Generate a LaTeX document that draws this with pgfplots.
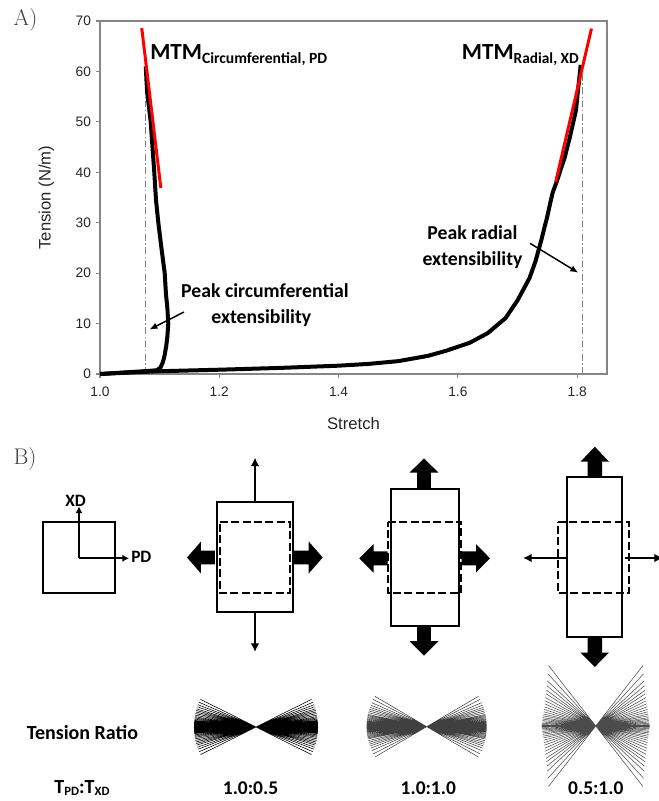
\documentclass[border=0pt]{standalone}
\usepackage{fontspec}
\usepackage{pgfplots}
\pgfplotsset{compat=1.18}
\usetikzlibrary{arrows.meta}
\newfontfamily\carlito{Carlito}
\newfontfamily\arial{Liberation Sans}
\definecolor{axgray}{RGB}{134,134,134}
\begin{document}
\begin{tikzpicture}
% ---------------- Panel A ----------------
\begin{axis}[name=A, at={(0,0)}, anchor=south west, scale only axis,
 width=380.25pt, height=264.75pt,
 xmin=1.0, xmax=1.85, ymin=0, ymax=70, clip=false,
 xtick={1.0,1.2,1.4,1.6,1.8}, ytick={0,10,20,30,40,50,60,70},
 tick align=outside, tick pos=left, major tick length=3.2pt,
 axis line style={draw=axgray, line width=1.1pt},
 tick style={draw=axgray, line width=0.9pt},
 tick label style={font=\arial\fontsize{10.3}{12}\selectfont, text=black!85},
 /pgf/number format/assume math mode=true,
 xticklabel style={yshift=-3pt, /pgf/number format/fixed, /pgf/number format/fixed zerofill, /pgf/number format/precision=1},
 xlabel={Stretch}, ylabel={Tension (N/m)},
 label style={font=\arial\fontsize{12.5}{14}\selectfont, text=black!85},
 xlabel style={at={(axis description cs:0.5,-0.1567)}, anchor=base},
 ylabel style={at={(axis description cs:-0.106,0.5)}, anchor=center},
]
% dash-dot peak extensibility lines
\addplot[gray, line width=0.6pt, dash pattern=on 5pt off 2pt on 1pt off 2pt] coordinates {(1.0754,0) (1.0754,59)};
\addplot[gray, line width=0.6pt, dash pattern=on 5pt off 2pt on 1pt off 2pt] coordinates {(1.8086,0) (1.8086,60)};
% circumferential (PD)
\addplot[black, line width=3pt, line join=round] coordinates {
(1.000,0.0) (1.02,0.15) (1.04,0.3) (1.06,0.45) (1.08,0.6) (1.095,0.75) (1.101,1.2)
(1.105,2.2) (1.108,3.5) (1.111,5.5) (1.113,7.5) (1.1145,10) (1.113,13) (1.1105,16)
(1.1085,20) (1.1034,24.6) (1.0978,30) (1.0939,34.5) (1.091,40) (1.088,45) (1.085,50)
(1.0815,53.5) (1.0790,56) (1.0778,58.5) (1.0768,61)};
% radial (XD)
\addplot[black, line width=3pt, line join=round] coordinates {
(1.0,0) (1.05,0.3) (1.1,0.55) (1.2,0.85) (1.3,1.2) (1.4,1.65) (1.45,2.0) (1.5,2.55)
(1.55,3.6) (1.58,4.6) (1.6,5.4) (1.62,6.2) (1.65,8.1) (1.68,11.1) (1.70,14.6) (1.72,19.0)
(1.73,22.3) (1.74,26.6) (1.75,31.3) (1.756,34.5) (1.759,36) (1.7656,38.1) (1.7795,43.1)
(1.788,47.1) (1.798,52.3) (1.802,57) (1.806,61.3)};
% tangent (MTM) lines
\addplot[red, line width=2.25pt] coordinates {(1.070,68.6) (1.102,36.9)};
\addplot[red, line width=2.25pt] coordinates {(1.764,38.1) (1.824,68.5)};
\end{axis}

% ---------------- Canvas (pixel coordinates) ----------------
\begin{axis}[name=canvas, at={(-75pt,-320.25pt)}, anchor=south west, scale only axis,
 width=493.5pt, height=600.75pt, xmin=0, xmax=658, ymin=0, ymax=801,
 y dir=reverse, hide axis, clip=false]
% panel letters
\node[anchor=base west, inner sep=0, font=\fontsize{17}{17}\selectfont, text=black!75] at (axis cs:13.3,25) {A)};
\node[anchor=base west, inner sep=0, font=\fontsize{17}{17}\selectfont, text=black!75] at (axis cs:13.3,464.5) {B)};
% MTM labels
\node[anchor=base west, inner sep=0] at (axis cs:150,59.3)
 {\carlito\bfseries\fontsize{17.3}{17}\selectfont MTM\raisebox{-3pt}{\fontsize{11.7}{12}\selectfont Circumferential, PD}};
\node[anchor=base west, inner sep=0] at (axis cs:461.7,59.3)
 {\carlito\bfseries\fontsize{17.3}{17}\selectfont MTM\raisebox{-3pt}{\fontsize{11.5}{12}\selectfont Radial, XD}};
% peak annotations
\node[anchor=base, inner sep=0, font=\carlito\bfseries\fontsize{14.8}{16}\selectfont] at (axis cs:265,297.5) {Peak circumferential};
\node[anchor=base, inner sep=0, font=\carlito\bfseries\fontsize{14.8}{16}\selectfont] at (axis cs:261.3,323) {extensibility};
\node[anchor=base, inner sep=0, font=\carlito\bfseries\fontsize{14.8}{16}\selectfont] at (axis cs:472.5,239.3) {Peak radial};
\node[anchor=base, inner sep=0, font=\carlito\bfseries\fontsize{14.8}{16}\selectfont] at (axis cs:472.5,265) {extensibility};
\draw[line width=1.1pt, -{Latex[length=6pt,width=5pt]}] (axis cs:184,312) -- (axis cs:149.5,329.5);
\draw[line width=1.1pt, -{Latex[length=6pt,width=5pt]}] (axis cs:530,243.3) -- (axis cs:578.3,272.7);

% ---------------- Panel B ----------------
% reference square with axes
\addplot[black, line width=1.5pt] coordinates {(43,522) (115,522) (115,593) (43,593)} --cycle;
\addplot[black, line width=1.5pt, -{Latex[length=5pt,width=5.5pt]}] coordinates {(79,558.3) (79,506.5)};
\addplot[black, line width=1.5pt, -{Latex[length=5pt,width=5.5pt]}] coordinates {(79,558.3) (129,558.3)};
\node[anchor=base, inner sep=0, font=\carlito\bfseries\fontsize{13}{14}\selectfont] at (axis cs:75.5,506) {XD};
\node[anchor=base west, inner sep=0, font=\carlito\bfseries\fontsize{13}{14}\selectfont] at (axis cs:131,562.7) {PD};

% sample 1 (1.0:0.5)
\addplot[black, line width=1.5pt] coordinates {(217,502) (293,502) (293,612) (217,612)} --cycle;
\addplot[black, line width=1.5pt, dash pattern=on 6pt off 2.5pt] coordinates {(220,522) (290,522) (290,593) (220,593)} --cycle;
\addplot[black, line width=1.5pt, -{Latex[length=6.5pt,width=6.5pt]}] coordinates {(255,501) (255,457.5)};
\addplot[black, line width=1.5pt, -{Latex[length=6.5pt,width=6.5pt]}] coordinates {(255,613) (255,652)};
\addplot[fill=black, draw=none] coordinates {(215,550.7) (201,550.7) (201,541.5) (187,557.5) (201,573.5) (201,564.3) (215,564.3)} --cycle;
\addplot[fill=black, draw=none] coordinates {(294,550.7) (308.7,550.7) (308.7,541.5) (322.7,557.5) (308.7,573.5) (308.7,564.3) (294,564.3)} --cycle;

% sample 2 (1.0:1.0)
\addplot[black, line width=1.5pt] coordinates {(391,489) (459,489) (459,626) (391,626)} --cycle;
\addplot[black, line width=1.5pt, dash pattern=on 6pt off 2.5pt] coordinates {(388,522) (461,522) (461,593) (388,593)} --cycle;
\addplot[fill=black, draw=none] coordinates {(417.2,488) (417.2,472.7) (409.5,472.7) (424,458.3) (438.5,472.7) (430.8,472.7) (430.8,488)} --cycle;
\addplot[fill=black, draw=none] coordinates {(417.2,627) (417.2,641) (409.5,641) (424,655.5) (438.5,641) (430.8,641) (430.8,627)} --cycle;
\addplot[fill=black, draw=none] coordinates {(387.5,551.3) (373.5,551.3) (373.5,544) (359.3,558.3) (373.5,572.5) (373.5,565.3) (387.5,565.3)} --cycle;
\addplot[fill=black, draw=none] coordinates {(461.5,551.3) (476,551.3) (476,544) (490,558.3) (476,572.5) (476,565.3) (461.5,565.3)} --cycle;

% sample 3 (0.5:1.0)
\addplot[black, line width=1.5pt] coordinates {(567,477) (622,477) (622,637) (567,637)} --cycle;
\addplot[black, line width=1.5pt, dash pattern=on 6pt off 2.5pt] coordinates {(558,522) (629,522) (629,593) (558,593)} --cycle;
\addplot[fill=black, draw=none] coordinates {(587.5,477) (587.5,461.7) (580.5,461.7) (594.8,446.7) (609,461.7) (602,461.7) (602,477)} --cycle;
\addplot[fill=black, draw=none] coordinates {(587.5,638) (587.5,652.5) (580.5,652.5) (594.8,667) (609,652.5) (602,652.5) (602,638)} --cycle;
\addplot[black, line width=1.5pt, -{Latex[length=6.5pt,width=6.5pt]}] coordinates {(566,558) (523,558)};
\addplot[black, line width=1.5pt, -{Latex[length=6.5pt,width=6.5pt]}] coordinates {(625,558) (663,558)};

% texts
\node[anchor=base, inner sep=0, font=\carlito\bfseries\fontsize{15}{16}\selectfont] at (axis cs:82.5,739.3) {Tension Ratio};
\node[anchor=base, inner sep=0, font=\carlito\bfseries\fontsize{15}{16}\selectfont] at (axis cs:82,793.3)
 {T\raisebox{-1.5pt}{\fontsize{9.5}{10}\selectfont PD}:T\raisebox{-1.5pt}{\fontsize{9.5}{10}\selectfont XD}};
\node[anchor=base, inner sep=0, font=\carlito\bfseries\fontsize{14.6}{16}\selectfont] at (axis cs:250.5,794) {1.0:0.5};
\node[anchor=base, inner sep=0, font=\carlito\bfseries\fontsize{14.6}{16}\selectfont] at (axis cs:428.3,794) {1.0:1.0};
\node[anchor=base, inner sep=0, font=\carlito\bfseries\fontsize{14.6}{16}\selectfont] at (axis cs:595.8,794) {0.5:1.0};
\end{axis}

% ---------------- Fibre distributions ----------------
\begin{axis}[at={(117pt,-264.75pt)}, anchor=center, scale only axis, width=120pt, height=120pt,
 xmin=-80, xmax=80, ymin=-80, ymax=80, hide axis, clip=false]
\addplot[black, line width=0.42pt, unbounded coords=jump] coordinates {
(-62,0) (62,0) (0,nan)
(-62,-0.76) (62,0.76) (0,nan) (-62,0.76) (62,-0.76) (0,nan)
(-61.98,-1.62) (61.98,1.62) (0,nan) (-61.98,1.62) (61.98,-1.62) (0,nan)
(-61.95,-2.38) (61.95,2.38) (0,nan) (-61.95,2.38) (61.95,-2.38) (0,nan)
(-61.92,-3.25) (61.92,3.25) (0,nan) (-61.92,3.25) (61.92,-3.25) (0,nan)
(-61.86,-4.11) (61.86,4.11) (0,nan) (-61.86,4.11) (61.86,-4.11) (0,nan)
(-61.80,-4.97) (61.80,4.97) (0,nan) (-61.80,4.97) (61.80,-4.97) (0,nan)
(-61.72,-5.83) (61.72,5.83) (0,nan) (-61.72,5.83) (61.72,-5.83) (0,nan)
(-61.64,-6.70) (61.64,6.70) (0,nan) (-61.64,6.70) (61.64,-6.70) (0,nan)
(-61.50,-7.88) (61.50,7.88) (0,nan) (-61.50,7.88) (61.50,-7.88) (0,nan)
(-61.33,-9.06) (61.33,9.06) (0,nan) (-61.33,9.06) (61.33,-9.06) (0,nan)
(-61.13,-10.34) (61.13,10.34) (0,nan) (-61.13,10.34) (61.13,-10.34) (0,nan)
(-60.86,-11.83) (60.86,11.83) (0,nan) (-60.86,11.83) (60.86,-11.83) (0,nan)
(-60.53,-13.42) (60.53,13.42) (0,nan) (-60.53,13.42) (60.53,-13.42) (0,nan)
(-60.16,-15.00) (60.16,15.00) (0,nan) (-60.16,15.00) (60.16,-15.00) (0,nan)
(-59.75,-16.57) (59.75,16.57) (0,nan) (-59.75,16.57) (59.75,-16.57) (0,nan)
(-59.29,-18.13) (59.29,18.13) (0,nan) (-59.29,18.13) (59.29,-18.13) (0,nan)
(-58.62,-20.19) (58.62,20.19) (0,nan) (-58.62,20.19) (58.62,-20.19) (0,nan)
(-57.88,-22.22) (57.88,22.22) (0,nan) (-57.88,22.22) (57.88,-22.22) (0,nan)
(-56.86,-24.72) (56.86,24.72) (0,nan) (-56.86,24.72) (56.86,-24.72) (0,nan)
(-55.49,-27.66) (55.49,27.66) (0,nan) (-55.49,27.66) (55.49,-27.66)};
\end{axis}

\begin{axis}[at={(245pt,-264.5pt)}, anchor=center, scale only axis, width=120pt, height=120pt,
 xmin=-80, xmax=80, ymin=-80, ymax=80, hide axis, clip=false]
\addplot[black!75, line width=0.4pt, unbounded coords=jump] coordinates {
(-60,0) (60,0) (0,nan)
(-60,-0.73) (60,0.73) (0,nan) (-60,0.73) (60,-0.73) (0,nan)
(-59.98,-1.47) (59.98,1.47) (0,nan) (-59.98,1.47) (59.98,-1.47) (0,nan)
(-59.96,-2.30) (59.96,2.30) (0,nan) (-59.96,2.30) (59.96,-2.30) (0,nan)
(-59.92,-3.14) (59.92,3.14) (0,nan) (-59.92,3.14) (59.92,-3.14) (0,nan)
(-59.87,-3.98) (59.87,3.98) (0,nan) (-59.87,3.98) (59.87,-3.98) (0,nan)
(-59.81,-4.81) (59.81,4.81) (0,nan) (-59.81,4.81) (59.81,-4.81) (0,nan)
(-59.73,-5.65) (59.73,5.65) (0,nan) (-59.73,5.65) (59.73,-5.65) (0,nan)
(-59.63,-6.69) (59.63,6.69) (0,nan) (-59.63,6.69) (59.63,-6.69) (0,nan)
(-59.50,-7.73) (59.50,7.73) (0,nan) (-59.50,7.73) (59.50,-7.73) (0,nan)
(-59.34,-8.87) (59.34,8.87) (0,nan) (-59.34,8.87) (59.34,-8.87) (0,nan)
(-59.16,-10.01) (59.16,10.01) (0,nan) (-59.16,10.01) (59.16,-10.01) (0,nan)
(-58.96,-11.14) (58.96,11.14) (0,nan) (-58.96,11.14) (58.96,-11.14) (0,nan)
(-58.73,-12.27) (58.73,12.27) (0,nan) (-58.73,12.27) (58.73,-12.27) (0,nan)
(-58.34,-14.01) (58.34,14.01) (0,nan) (-58.34,14.01) (58.34,-14.01) (0,nan)
(-57.90,-15.73) (57.90,15.73) (0,nan) (-57.90,15.73) (57.90,-15.73) (0,nan)
(-57.38,-17.54) (57.38,17.54) (0,nan) (-57.38,17.54) (57.38,-17.54) (0,nan)
(-56.80,-19.34) (56.80,19.34) (0,nan) (-56.80,19.34) (56.80,-19.34) (0,nan)
(-56.01,-21.50) (56.01,21.50) (0,nan) (-56.01,21.50) (56.01,-21.50) (0,nan)
(-54.98,-24.02) (54.98,24.02) (0,nan) (-54.98,24.02) (54.98,-24.02) (0,nan)
(-53.46,-27.24) (53.46,27.24) (0,nan) (-53.46,27.24) (53.46,-27.24) (0,nan)
(-51.75,-30.36) (51.75,30.36) (0,nan) (-51.75,30.36) (51.75,-30.36)};
\end{axis}

\begin{axis}[at={(371.8pt,-264pt)}, anchor=center, scale only axis, width=120pt, height=120pt,
 xmin=-80, xmax=80, ymin=-80, ymax=80, hide axis, clip=false]
\addplot[black!70, line width=0.4pt, unbounded coords=jump] coordinates {
(-54,0) (54,0) (0,nan)
(-53.91,-0.66) (53.91,0.66) (0,nan) (-53.91,0.66) (53.91,-0.66) (0,nan)
(-53.81,-1.41) (53.81,1.41) (0,nan) (-53.81,1.41) (53.81,-1.41) (0,nan)
(-53.62,-2.72) (53.62,2.72) (0,nan) (-53.62,2.72) (53.62,-2.72) (0,nan)
(-53.44,-4.02) (53.44,4.02) (0,nan) (-53.44,4.02) (53.44,-4.02) (0,nan)
(-53.25,-5.41) (53.25,5.41) (0,nan) (-53.25,5.41) (53.25,-5.41) (0,nan)
(-53.04,-6.89) (53.04,6.89) (0,nan) (-53.04,6.89) (53.04,-6.89) (0,nan)
(-52.83,-8.37) (52.83,8.37) (0,nan) (-52.83,8.37) (52.83,-8.37) (0,nan)
(-52.57,-10.22) (52.57,10.22) (0,nan) (-52.57,10.22) (52.57,-10.22) (0,nan)
(-52.32,-11.98) (52.32,11.98) (0,nan) (-52.32,11.98) (52.32,-11.98) (0,nan)
(-52.01,-14.23) (52.01,14.23) (0,nan) (-52.01,14.23) (52.01,-14.23) (0,nan)
(-51.69,-16.60) (51.69,16.60) (0,nan) (-51.69,16.60) (51.69,-16.60) (0,nan)
(-51.34,-19.19) (51.34,19.19) (0,nan) (-51.34,19.19) (51.34,-19.19) (0,nan)
(-50.95,-22.15) (50.95,22.15) (0,nan) (-50.95,22.15) (50.95,-22.15) (0,nan)
(-50.56,-25.21) (50.56,25.21) (0,nan) (-50.56,25.21) (50.56,-25.21) (0,nan)
(-50.17,-28.38) (50.17,28.38) (0,nan) (-50.17,28.38) (50.17,-28.38) (0,nan)
(-49.71,-32.28) (49.71,32.28) (0,nan) (-49.71,32.28) (49.71,-32.28) (0,nan)
(-49.32,-35.83) (49.32,35.83) (0,nan) (-49.32,35.83) (49.32,-35.83) (0,nan)
(-48.87,-40.28) (48.87,40.28) (0,nan) (-48.87,40.28) (48.87,-40.28) (0,nan)
(-48.41,-45.14) (48.41,45.14) (0,nan) (-48.41,45.14) (48.41,-45.14) (0,nan)
(-47.83,-52.20) (47.83,52.20) (0,nan) (-47.83,52.20) (47.83,-52.20) (0,nan)
(-47.24,-60.46) (47.24,60.46) (0,nan) (-47.24,60.46) (47.24,-60.46)};
\end{axis}

\pgfresetboundingbox
\useasboundingbox (canvas.south west) rectangle (canvas.north east);
\end{tikzpicture}
\end{document}
